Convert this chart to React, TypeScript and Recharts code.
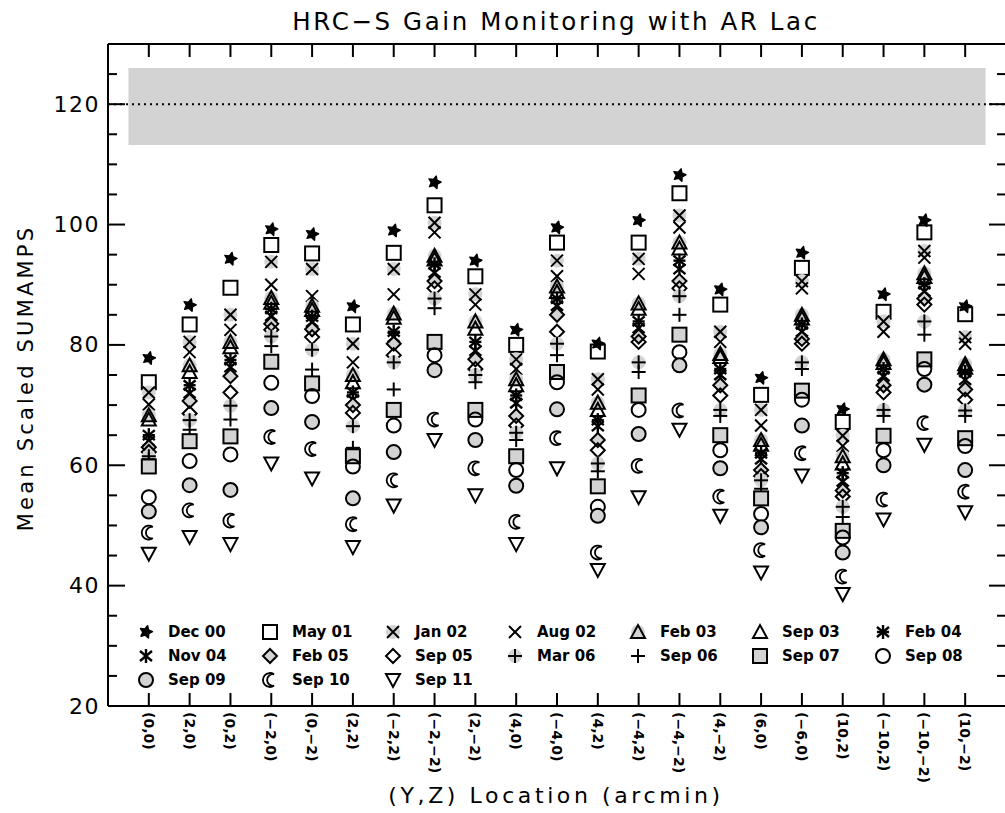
import React from "react";
import { ScatterChart, Scatter, XAxis, YAxis, ReferenceArea, ReferenceLine } from "recharts";

const locations = [
  "(0,0)", "(2,0)", "(0,2)", "(\u22122,0)", "(0,\u22122)", "(2,2)", "(\u22122,2)", "(\u22122,\u22122)",
  "(2,\u22122)", "(4,0)", "(\u22124,0)", "(4,2)", "(\u22124,2)", "(\u22124,\u22122)", "(4,\u22122)",
  "(6,0)", "(\u22126,0)", "(10,2)", "(\u221210,2)", "(\u221210,\u22122)", "(10,\u22122)",
];

// mean scaled sumamps per epoch, one value per location above
const dec00 = [77.8, 86.6, 94.3, 99.2, 98.4, 86.4, 99.0, 107.0, 94.0, 82.5, 99.5, 80.2, 100.7, 108.2, 89.2, 74.5, 95.3, 69.3, 88.4, 100.7, 86.4];
const may01 = [73.8, 83.4, 89.5, 96.6, 95.2, 83.4, 95.3, 103.2, 91.4, 80.0, 97.0, 78.9, 97.0, 105.2, 86.7, 71.7, 92.8, 67.2, 85.5, 98.7, 85.1];
const jan02 = [72.1, 80.5, 85.0, 93.8, 92.6, 80.2, 92.6, 100.3, 88.4, 77.6, 94.0, 74.3, 94.3, 101.5, 82.2, 69.2, 90.6, 64.9, 83.9, 95.6, 81.3];
const aug02 = [70.1, 78.8, 82.5, 90.0, 88.1, 77.1, 88.4, 98.7, 86.7, 76.0, 91.4, 72.6, 91.8, 99.5, 80.5, 66.6, 89.4, 63.2, 82.2, 94.5, 80.2];
const feb03 = [68.3, 76.6, 80.5, 87.8, 86.5, 75.0, 85.2, 94.8, 83.9, 74.3, 89.7, 70.4, 86.9, 97.0, 78.5, 64.2, 85.0, 61.5, 77.6, 91.9, 76.8];
const sep03 = [67.6, 75.5, 79.6, 87.0, 85.8, 73.8, 84.5, 94.2, 82.7, 73.3, 88.8, 69.2, 86.0, 96.0, 78.0, 63.4, 84.4, 60.3, 77.0, 91.3, 76.2];
const feb04 = [65.0, 73.3, 77.5, 86.0, 84.7, 72.1, 82.2, 93.4, 80.5, 71.6, 87.7, 67.5, 83.9, 94.0, 76.0, 62.0, 83.4, 58.7, 76.0, 90.1, 75.5];
const nov04 = [64.0, 72.0, 76.3, 84.8, 83.8, 70.9, 81.3, 92.0, 79.0, 70.3, 86.5, 66.5, 82.8, 92.6, 75.0, 61.0, 82.2, 57.3, 74.8, 88.9, 74.2];
const feb05 = [63.0, 70.7, 74.8, 83.5, 82.6, 70.0, 80.2, 90.6, 77.6, 68.2, 85.0, 64.2, 81.4, 90.6, 73.3, 59.2, 81.0, 55.8, 73.3, 87.7, 72.6];
const sep05 = [62.2, 68.6, 72.1, 82.5, 81.3, 68.7, 78.3, 89.4, 76.0, 66.6, 82.2, 62.5, 80.5, 89.4, 71.6, 58.2, 80.2, 54.8, 72.1, 86.7, 70.9];
const mar06 = [61.5, 67.5, 69.9, 81.4, 79.2, 66.5, 77.1, 87.7, 75.0, 65.4, 80.2, 60.3, 77.1, 88.1, 69.2, 57.5, 77.1, 53.1, 69.2, 83.9, 69.1];
const sep06 = [61.0, 65.9, 67.6, 79.8, 75.9, 62.9, 72.6, 86.1, 73.8, 64.2, 78.3, 59.0, 75.5, 85.0, 68.2, 56.1, 76.0, 51.4, 68.2, 81.7, 68.2];
const sep07 = [59.8, 64.0, 64.8, 77.2, 73.6, 61.5, 69.2, 80.5, 69.2, 61.5, 75.5, 56.5, 71.6, 81.7, 65.0, 54.5, 72.4, 49.1, 64.9, 77.6, 64.5];
const sep08 = [54.7, 60.7, 61.8, 73.7, 71.5, 59.8, 66.6, 78.3, 67.6, 59.2, 73.8, 53.1, 69.2, 78.8, 62.5, 51.9, 70.9, 48.0, 62.5, 76.0, 63.2];
const sep09 = [52.3, 56.7, 55.9, 69.5, 67.2, 54.5, 62.2, 75.8, 64.2, 56.6, 69.3, 51.6, 65.2, 76.6, 59.5, 49.7, 66.6, 45.5, 60.0, 73.4, 59.2];
const sep10 = [48.8, 52.5, 50.8, 64.7, 62.7, 50.2, 57.5, 67.6, 59.5, 50.6, 64.5, 45.5, 59.9, 69.1, 54.8, 45.9, 62.0, 41.5, 54.3, 67.0, 55.6];
const sep11 = [45.3, 48.1, 46.9, 60.3, 57.8, 46.4, 53.3, 64.2, 55.0, 46.9, 59.5, 42.6, 54.7, 65.9, 51.6, 42.2, 58.3, 38.6, 51.0, 63.4, 52.2];

// expected gain band and nominal value
const bandLow = 113.2;
const bandHigh = 126;
const nominal = 120;

const yTicks = [20, 25, 30, 35, 40, 45, 50, 55, 60, 65, 70, 75, 80, 85, 90, 95, 100, 105, 110, 115, 120, 125];
const xTicks = locations.map((_, i) => i + 1);

const series = [
  { name: "Dec 00", values: dec00, kind: "star" },
  { name: "May 01", values: may01, kind: "square" },
  { name: "Jan 02", values: jan02, kind: "xdisc" },
  { name: "Aug 02", values: aug02, kind: "x" },
  { name: "Feb 03", values: feb03, kind: "tridisc" },
  { name: "Sep 03", values: sep03, kind: "tri" },
  { name: "Feb 04", values: feb04, kind: "ast8" },
  { name: "Nov 04", values: nov04, kind: "ast6" },
  { name: "Feb 05", values: feb05, kind: "diamondGray" },
  { name: "Sep 05", values: sep05, kind: "diamond" },
  { name: "Mar 06", values: mar06, kind: "plusdisc" },
  { name: "Sep 06", values: sep06, kind: "plus" },
  { name: "Sep 07", values: sep07, kind: "squareGray" },
  { name: "Sep 08", values: sep08, kind: "circle" },
  { name: "Sep 09", values: sep09, kind: "circleGray" },
  { name: "Sep 10", values: sep10, kind: "moon" },
  { name: "Sep 11", values: sep11, kind: "downtri" },
];

const GRAY = "#d3d3d3";
const FONT = "'DejaVu Sans', sans-serif";

function Marker({ kind, cx, cy }: { kind: string; cx: number; cy: number }) {
  const s = 7;
  const line = { stroke: "#000", strokeWidth: 2 };
  const disc = <circle cx={cx} cy={cy} r={7} fill={GRAY} />;
  const xMark = (
    <g {...line}>
      <line x1={cx - 6} y1={cy - 6} x2={cx + 6} y2={cy + 6} />
      <line x1={cx - 6} y1={cy + 6} x2={cx + 6} y2={cy - 6} />
    </g>
  );
  const plusMark = (
    <g {...line}>
      <line x1={cx - 7} y1={cy} x2={cx + 7} y2={cy} />
      <line x1={cx} y1={cy - 7} x2={cx} y2={cy + 7} />
    </g>
  );
  const upTri = `${cx - 7},${cy + 6} ${cx + 7},${cy + 6} ${cx},${cy - 7}`;
  const diamond = `${cx},${cy - 7} ${cx + 7},${cy} ${cx},${cy + 7} ${cx - 7},${cy}`;
  switch (kind) {
    case "star": {
      const pts: string[] = [];
      for (let i = 0; i < 10; i++) {
        const r = i % 2 === 0 ? 6.5 : 3.2;
        const a = -Math.PI / 2 + (i * Math.PI) / 5 + 0.25;
        pts.push(`${cx + r * Math.cos(a)},${cy + r * Math.sin(a)}`);
      }
      return <polygon points={pts.join(" ")} fill="#000" stroke="#000" strokeWidth={1.5} strokeLinejoin="round" />;
    }
    case "square":
      return <rect x={cx - s} y={cy - s} width={2 * s} height={2 * s} fill="none" {...line} />;
    case "squareGray":
      return <rect x={cx - s} y={cy - s} width={2 * s} height={2 * s} fill={GRAY} {...line} />;
    case "xdisc":
      return <g>{disc}{xMark}</g>;
    case "x":
      return xMark;
    case "tridisc":
      return <g>{disc}<polygon points={upTri} fill={GRAY} {...line} /></g>;
    case "tri":
      return <polygon points={upTri} fill="none" {...line} />;
    case "downtri":
      return <polygon points={`${cx - 7},${cy - 6} ${cx + 7},${cy - 6} ${cx},${cy + 7}`} fill="none" {...line} />;
    case "ast8":
    case "ast6":
      return (
        <g stroke="#000" strokeWidth={2.4}>
          <line x1={cx} y1={cy - 7} x2={cx} y2={cy + 7} />
          <line x1={cx - 6} y1={cy - 5} x2={cx + 6} y2={cy + 5} />
          <line x1={cx - 6} y1={cy + 5} x2={cx + 6} y2={cy - 5} />
          {kind === "ast8" && <line x1={cx - 6} y1={cy} x2={cx + 6} y2={cy} />}
        </g>
      );
    case "diamondGray":
      return <polygon points={diamond} fill={GRAY} {...line} />;
    case "diamond":
      return <polygon points={diamond} fill="none" {...line} />;
    case "plusdisc":
      return <g>{disc}{plusMark}</g>;
    case "plus":
      return plusMark;
    case "circle":
      return <circle cx={cx} cy={cy} r={7} fill="none" {...line} />;
    case "circleGray":
      return <circle cx={cx} cy={cy} r={7} fill={GRAY} {...line} />;
    case "moon":
      return (
        <path
          d={`M ${cx + 4} ${cy - 5.7} A 7 7 0 1 0 ${cx + 4} ${cy + 5.7} A 5.8 5.8 0 1 1 ${cx + 4} ${cy - 5.7} Z`}
          fill="#fff"
          stroke="#000"
          strokeWidth={1.8}
        />
      );
    default:
      return null;
  }
}

const BottomTick = (props: any) => {
  const { x, y, payload } = props;
  const label = locations[payload.value - 1];
  return (
    <g>
      <line x1={x} y1={y} x2={x} y2={y - 13} stroke="#000" strokeWidth={2} />
      <text
        x={x}
        y={y + 6}
        transform={`rotate(90 ${x} ${y + 6})`}
        dominantBaseline="central"
        fontFamily={FONT}
        fontWeight="bold"
        fontSize={14}
        fill="#000"
      >
        {label}
      </text>
    </g>
  );
};

const TopTick = (props: any) => {
  const { x, y } = props;
  return <line x1={x} y1={y} x2={x} y2={y + 13} stroke="#000" strokeWidth={2} />;
};

const LeftTick = (props: any) => {
  const { x, y, payload } = props;
  const major = payload.value % 20 === 0;
  return (
    <g>
      <line x1={x} y1={y} x2={x + (major ? 17 : 9)} y2={y} stroke="#000" strokeWidth={2} />
      {major && (
        <text x={x - 8} y={y} textAnchor="end" dominantBaseline="central" fontFamily={FONT} fontSize={22} letterSpacing={1.5} fill="#000">
          {payload.value}
        </text>
      )}
    </g>
  );
};

const RightTick = (props: any) => {
  const { x, y, payload } = props;
  const major = payload.value % 20 === 0;
  return <line x1={x} y1={y} x2={x - (major ? 17 : 9)} y2={y} stroke="#000" strokeWidth={2} />;
};

const W = 1005;
const H = 813;
const legendCols = [146, 270, 393, 515, 638, 760, 883];
const legendRows = [632, 656, 680];

export default function App() {
  return (
    <div style={{ position: "absolute", left: 0, top: 0, width: W, height: H, background: "#fff", overflow: "hidden" }}>
      <ScatterChart width={W} height={H} margin={{ top: 40, right: -3, bottom: 103, left: 0 }}>
        <XAxis
          xAxisId="b"
          dataKey="x"
          type="number"
          domain={[0, 22]}
          ticks={xTicks}
          interval={0}
          allowDataOverflow
          height={4}
          tickSize={0}
          tickMargin={0}
          tick={<BottomTick />}
          axisLine={{ stroke: "#000", strokeWidth: 2 }}
        />
        <XAxis
          xAxisId="t"
          orientation="top"
          dataKey="x"
          type="number"
          domain={[0, 22]}
          ticks={xTicks}
          interval={0}
          allowDataOverflow
          height={4}
          tickSize={0}
          tickMargin={0}
          tick={<TopTick />}
          axisLine={{ stroke: "#000", strokeWidth: 2 }}
        />
        <YAxis
          yAxisId="l"
          dataKey="y"
          type="number"
          domain={[20, 130]}
          ticks={yTicks}
          interval={0}
          allowDataOverflow
          width={108}
          tickSize={0}
          tickMargin={0}
          tick={<LeftTick />}
          axisLine={{ stroke: "#000", strokeWidth: 2 }}
        />
        <YAxis
          yAxisId="r"
          orientation="right"
          dataKey="y"
          type="number"
          domain={[20, 130]}
          ticks={yTicks}
          interval={0}
          allowDataOverflow
          width={2}
          tickSize={0}
          tickMargin={0}
          tick={<RightTick />}
          axisLine={{ stroke: "#000", strokeWidth: 2 }}
        />
        <ReferenceArea xAxisId="b" yAxisId="l" x1={0.5} x2={21.5} y1={bandLow} y2={bandHigh} fill={GRAY} fillOpacity={1} stroke="none" />
        <ReferenceLine xAxisId="b" yAxisId="l" y={nominal} stroke="#000" strokeWidth={2} strokeDasharray="2 4" />
        {series.map((s) => (
          <Scatter
            key={s.name}
            name={s.name}
            xAxisId="b"
            yAxisId="l"
            data={s.values.map((v, i) => ({ x: i + 1, y: v }))}
            isAnimationActive={false}
            shape={(p: any) => <Marker kind={s.kind} cx={p.cx} cy={p.cy} />}
          />
        ))}
      </ScatterChart>
      <svg width={W} height={H} style={{ position: "absolute", left: 0, top: 0, pointerEvents: "none" }}>
        <text x={556} y={30} textAnchor="middle" fontFamily={FONT} fontSize={24.5} letterSpacing={2.6} fill="#000">
          HRC{"\u2212"}S Gain Monitoring with AR Lac
        </text>
        <text
          x={33}
          y={378}
          transform="rotate(-90 33 378)"
          textAnchor="middle"
          fontFamily={FONT}
          fontSize={21}
          letterSpacing={3.2}
          fill="#000"
        >
          Mean Scaled SUMAMPS
        </text>
        <text x={556} y={803} textAnchor="middle" fontFamily={FONT} fontSize={22} letterSpacing={3.6} fill="#000">
          (Y,Z) Location (arcmin)
        </text>
        {series.map((s, i) => {
          const cx = legendCols[i % 7];
          const cy = legendRows[Math.floor(i / 7)];
          return (
            <g key={s.name}>
              <Marker kind={s.kind} cx={cx} cy={cy} />
              <text x={cx + 22} y={cy} dominantBaseline="central" fontFamily={FONT} fontWeight="bold" fontSize={15} fill="#000">
                {s.name}
              </text>
            </g>
          );
        })}
      </svg>
    </div>
  );
}
